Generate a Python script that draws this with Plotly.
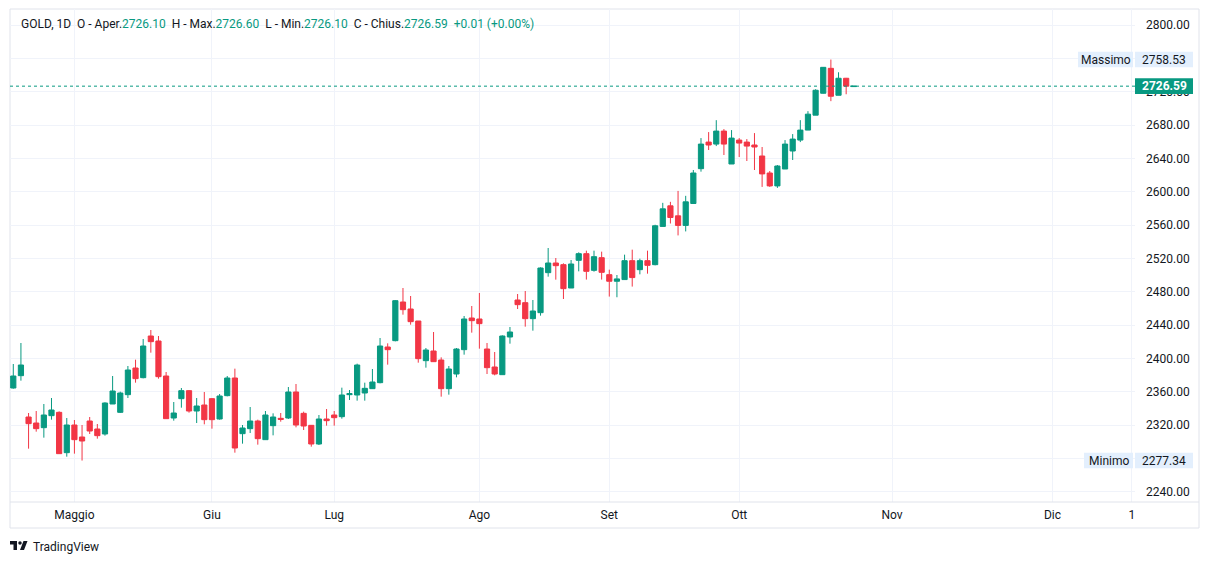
import plotly.graph_objects as go

# ---------------- data ----------------
bar_index = list(range(111))
open_ = [2364.4, 2379.2, 2329.6, 2322.4, 2316.8, 2331.2, 2335.2, 2286.8, 2320.0, 2305.6,
         2324.8, 2315.2, 2309.2, 2345.2, 2335.2, 2356.4, 2388.4, 2376.8, 2426.8, 2420.8,
         2378.8, 2328.4, 2351.6, 2361.2, 2336.8, 2344.0, 2351.6, 2327.2, 2355.2, 2376.4,
         2309.6, 2315.6, 2324.8, 2302.4, 2319.2, 2328.0, 2328.4, 2359.6, 2334.0, 2319.6,
         2297.2, 2327.2, 2332.0, 2330.0, 2356.4, 2356.0, 2358.4, 2363.6, 2370.8, 2413.6,
         2421.2, 2467.6, 2459.2, 2444.8, 2397.2, 2408.8, 2398.0, 2363.6, 2381.2, 2410.4,
         2448.4, 2447.2, 2411.2, 2389.6, 2380.4, 2425.6, 2470.0, 2466.8, 2447.6, 2454.8,
         2502.8, 2514.4, 2512.4, 2484.4, 2517.6, 2525.6, 2505.6, 2520.8, 2500.4, 2492.5,
         2494.5, 2517.2, 2506.4, 2517.2, 2512.4, 2558.3, 2583.0, 2571.0, 2559.5, 2585.8,
         2627.6, 2659.5, 2657.1, 2672.7, 2633.2, 2661.9, 2659.5, 2656.0, 2642.8, 2622.4,
         2606.9, 2627.2, 2648.8, 2661.9, 2673.9, 2691.8, 2718.1, 2748.0, 2715.7, 2736.1,
         2726.10]
high = [2393.2, 2418.4, 2334.4, 2336.8, 2345.2, 2352.4, 2336.4, 2328.4, 2326.0, 2320.0,
        2329.6, 2321.2, 2347.2, 2378.8, 2360.0, 2390.8, 2398.4, 2423.2, 2434.0, 2426.8,
        2383.6, 2347.6, 2364.4, 2362.0, 2352.4, 2359.6, 2352.4, 2357.2, 2378.8, 2387.6,
        2320.0, 2341.6, 2326.4, 2336.8, 2334.0, 2334.4, 2365.6, 2369.2, 2336.0, 2320.0,
        2332.0, 2339.2, 2336.8, 2364.8, 2362.0, 2393.6, 2370.8, 2387.2, 2424.4, 2418.0,
        2470.0, 2484.4, 2474.8, 2444.8, 2412.4, 2431.6, 2401.2, 2390.8, 2412.4, 2450.8,
        2462.8, 2478.4, 2418.4, 2407.6, 2427.6, 2437.6, 2477.2, 2480.8, 2470.0, 2509.2,
        2532.4, 2520.4, 2514.0, 2518.0, 2527.2, 2529.2, 2529.2, 2528.0, 2506.4, 2500.0,
        2524.4, 2530.4, 2519.6, 2529.2, 2560.3, 2586.6, 2587.8, 2600.9, 2595.0, 2626.0,
        2664.3, 2671.5, 2685.8, 2675.1, 2673.9, 2664.3, 2663.1, 2670.3, 2653.6, 2624.8,
        2632.0, 2661.9, 2669.1, 2685.8, 2696.6, 2722.9, 2749.6, 2758.53, 2743.3, 2736.5,
        2726.60]
low = [2363.6, 2373.2, 2291.6, 2312.0, 2304.8, 2326.4, 2285.2, 2282.0, 2285.6, 2277.34,
       2309.2, 2303.6, 2307.2, 2345.2, 2334.4, 2352.4, 2370.8, 2376.0, 2406.8, 2375.6,
       2327.6, 2325.2, 2340.8, 2334.8, 2322.4, 2320.8, 2315.6, 2326.4, 2354.4, 2286.8,
       2297.6, 2310.4, 2296.4, 2302.4, 2307.6, 2324.0, 2327.2, 2317.2, 2314.0, 2294.0,
       2296.0, 2319.2, 2319.2, 2327.6, 2350.0, 2349.2, 2349.2, 2363.2, 2370.0, 2392.4,
       2420.4, 2452.4, 2440.4, 2394.8, 2388.8, 2395.6, 2354.0, 2356.4, 2377.2, 2404.4,
       2430.8, 2411.6, 2381.2, 2379.6, 2380.4, 2417.6, 2459.2, 2438.0, 2433.2, 2451.2,
       2498.0, 2494.4, 2471.2, 2484.4, 2504.4, 2494.5, 2504.0, 2494.5, 2474.1, 2473.3,
       2494.5, 2486.1, 2500.8, 2501.6, 2511.6, 2558.3, 2561.8, 2547.5, 2552.3, 2585.8,
       2624.0, 2650.0, 2654.7, 2644.0, 2633.2, 2641.6, 2636.8, 2626.0, 2605.7, 2605.7,
       2604.5, 2627.2, 2638.0, 2659.5, 2673.9, 2691.8, 2717.7, 2708.6, 2715.7, 2716.9,
       2726.10]
close = [2378.8, 2392.0, 2321.6, 2315.6, 2332.0, 2338.0, 2285.6, 2320.0, 2302.4, 2300.8,
         2312.8, 2307.2, 2346.4, 2360.8, 2358.4, 2386.0, 2375.6, 2414.8, 2420.0, 2378.0,
         2327.6, 2334.4, 2361.2, 2336.8, 2342.8, 2326.4, 2326.4, 2354.8, 2376.4, 2292.4,
         2316.4, 2324.8, 2303.6, 2332.0, 2329.6, 2326.8, 2359.6, 2320.0, 2318.8, 2297.2,
         2327.2, 2325.2, 2328.8, 2356.0, 2357.6, 2392.0, 2364.0, 2371.6, 2414.8, 2410.4,
         2469.2, 2458.4, 2444.0, 2399.6, 2410.0, 2396.0, 2363.6, 2387.2, 2411.2, 2447.2,
         2445.2, 2441.6, 2388.8, 2381.2, 2426.8, 2431.6, 2464.4, 2447.6, 2456.8, 2508.4,
         2514.4, 2511.2, 2483.6, 2513.2, 2525.6, 2504.4, 2522.0, 2503.2, 2492.5, 2495.3,
         2517.2, 2496.9, 2517.2, 2511.6, 2559.1, 2579.4, 2569.0, 2559.5, 2587.8, 2622.4,
         2657.1, 2656.0, 2672.7, 2657.1, 2664.3, 2658.3, 2654.7, 2653.6, 2621.3, 2606.9,
         2630.8, 2657.1, 2663.1, 2673.9, 2693.0, 2721.7, 2749.2, 2714.5, 2736.1, 2726.58,
         2726.59]

month_ticks = [8, 26, 42, 61, 78, 95, 115, 136, 146.4]
month_labels = ["Maggio", "Giu", "Lug", "Ago", "Set", "Ott", "Nov", "Dic", "1"]
price_ticks = [2240, 2280, 2320, 2360, 2400, 2440, 2480, 2520, 2560, 2600, 2640, 2680, 2720, 2760, 2800]
# 2760 and 2280 labels sit under the Massimo / Minimo price labels
price_labels = ["2240.00", "", "2320.00", "2360.00", "2400.00", "2440.00", "2480.00", "2520.00",
                "2560.00", "2600.00", "2640.00", "2680.00", "2720.00", "", "2800.00"]

max_price = 2758.53
min_price = 2277.34
last_price = 2726.59

# ---------------- styling ----------------
GREEN = "#089981"
RED = "#F23645"
TEXT = "#131722"
GRID = "#f0f3fa"
FRAME = "#e0e3eb"
LBL_BG = "#e3effd"
FONT = "Roboto, Liberation Sans, sans-serif"

OFF = 8                      # the page body margin
W, H = 1209 - OFF, 564 - OFF  # figure size
PL, PR, PT, PB = 10, 1135, 9, 502  # plot area in page pixels


def px(x):
    return (x - PL) / (PR - PL)


def py(y):
    return (PB - y) / (PB - PT)


fig = go.Figure()
fig.add_trace(go.Candlestick(
    x=bar_index, open=open_, high=high, low=low, close=close,
    increasing=dict(line=dict(color=GREEN, width=1), fillcolor=GREEN),
    decreasing=dict(line=dict(color=RED, width=1), fillcolor=RED),
    whiskerwidth=0, hoverinfo="skip", showlegend=False,
))

shapes = []
annotations = []

# frame
shapes.append(dict(type="rect", xref="paper", yref="paper", x0=px(10), x1=px(1199), y0=py(528), y1=py(9),
                   line=dict(color=FRAME, width=1), layer="below"))
shapes.append(dict(type="line", xref="paper", yref="paper", x0=px(10), x1=px(1199), y0=py(502), y1=py(502),
                   line=dict(color=FRAME, width=1)))

# last price dotted line
shapes.append(dict(type="line", xref="paper", yref="y", x0=0, x1=1, y0=last_price, y1=last_price,
                   line=dict(color=GREEN, width=1, dash="dot")))

half = 7.8 * 1.2  # half label height in price units

# Massimo / Minimo labels
for name, val in (("Massimo", max_price), ("Minimo", min_price)):
    shapes.append(dict(type="rect", xref="paper", yref="y", x0=px(1078 if name == "Massimo" else 1084), x1=px(1133),
                       y0=val - half, y1=val + half, fillcolor=LBL_BG, line=dict(width=0)))
    shapes.append(dict(type="rect", xref="paper", yref="y", x0=px(1135), x1=px(1193),
                       y0=val - half, y1=val + half, fillcolor=LBL_BG, line=dict(width=0)))
    annotations.append(dict(xref="paper", yref="y", x=px(1105.5 if name == "Massimo" else 1108.5), y=val, text=name,
                            showarrow=False, xanchor="center", yanchor="middle",
                            font=dict(family=FONT, size=12, color=TEXT)))
    annotations.append(dict(xref="paper", yref="y", x=px(1164), y=val, text=f"{val:.2f}",
                            showarrow=False, xanchor="center", yanchor="middle",
                            font=dict(family=FONT, size=12, color=TEXT)))

# current price label
shapes.append(dict(type="rect", xref="paper", yref="y", x0=px(1135), x1=px(1193),
                   y0=last_price - half, y1=last_price + half, fillcolor=GREEN, line=dict(width=0)))
annotations.append(dict(xref="paper", yref="y", x=px(1164), y=last_price, text=f"<b>{last_price:.2f}</b>",
                        showarrow=False, xanchor="center", yanchor="middle",
                        font=dict(family=FONT, size=12, color="white")))

# header legend
g = lambda s: f'<span style="color:{GREEN}">{s}</span>'
sp = "\u00a0\u00a0"
header = (f"GOLD, 1D{sp}O - Aper.{g('2726.10')}{sp}H - Max.{g('2726.60')}{sp}"
          f"L - Min.{g('2726.10')}{sp}C - Chius.{g('2726.59')}{sp}{g('+0.01 (+0.00%)')}")
annotations.append(dict(xref="paper", yref="paper", x=px(19), y=py(24), text=header, showarrow=False,
                        xanchor="left", yanchor="middle", font=dict(family=FONT, size=12, color=TEXT)))


# TradingView logo
def lx(v):
    return px(10 + v * 0.5)


def ly(v):
    return py(541 + v * 0.5)


logo_path = (f"M {lx(0)},{ly(0)} L {lx(14)},{ly(0)} L {lx(14)},{ly(18)} L {lx(7)},{ly(18)} "
             f"L {lx(7)},{ly(7)} L {lx(0)},{ly(7)} Z "
             f"M {lx(27)},{ly(0)} L {lx(35)},{ly(0)} L {lx(28)},{ly(18)} L {lx(20)},{ly(18)} Z")
shapes.append(dict(type="path", xref="paper", yref="paper", path=logo_path, fillcolor=TEXT, line=dict(width=0)))
shapes.append(dict(type="circle", xref="paper", yref="paper", x0=lx(16.5), x1=lx(23.5), y0=ly(7.5), y1=ly(0.5),
                   fillcolor=TEXT, line=dict(width=0)))
annotations.append(dict(xref="paper", yref="paper", x=px(31), y=py(546.5), text="TradingView", showarrow=False,
                        xanchor="left", yanchor="middle", font=dict(family=FONT, size=12, color=TEXT)))

fig.update_layout(
    width=W, height=H,
    margin=dict(l=PL - OFF, r=(W + OFF) - PR, t=PT - OFF, b=(H + OFF) - PB, pad=0),
    paper_bgcolor="white", plot_bgcolor="white",
    shapes=shapes, annotations=annotations,
    boxgap=0.32, boxgroupgap=0,
    showlegend=False,
    xaxis=dict(range=[-0.43, 146.8], tickmode="array", tickvals=month_ticks, ticktext=month_labels,
               showgrid=True, gridcolor=GRID, gridwidth=1, zeroline=False, showline=False,
               rangeslider=dict(visible=False), ticks="", ticklabelstandoff=4,
               tickfont=dict(family=FONT, size=12, color=TEXT), fixedrange=True),
    yaxis=dict(range=[2227.6, 2819.2], side="right", tickmode="array", tickvals=price_ticks,
               ticktext=price_labels, showgrid=True, gridcolor=GRID, gridwidth=1, zeroline=False,
               showline=False, ticks="", ticklabelstandoff=10,
               tickfont=dict(family=FONT, size=12, color=TEXT), fixedrange=True),
)

fig.write_html("out.html")
